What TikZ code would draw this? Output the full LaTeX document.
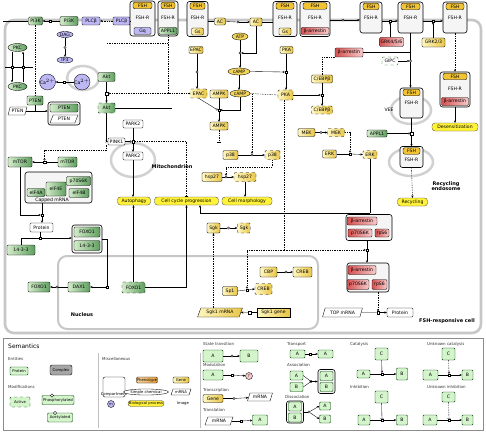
\documentclass[tikz,border=0pt]{standalone}
\usepackage{fontspec}
\setmainfont{DejaVu Sans}
\usetikzlibrary{shapes.geometric,arrows.meta,calc}
\definecolor{gL}{HTML}{D4ECCB}
\definecolor{gD}{HTML}{5F9F5F}
\definecolor{yL}{HTML}{FFF7C2}
\definecolor{yD}{HTML}{E9C646}
\definecolor{rL}{HTML}{F6CACA}
\definecolor{rD}{HTML}{D65050}
\definecolor{lav}{HTML}{BDB8F4}
\definecolor{yC}{HTML}{F4D65C}
\definecolor{phY}{HTML}{FFF238}
\definecolor{fshY}{HTML}{F1C232}
\definecolor{lgG}{HTML}{D4F4CC}
\definecolor{orP}{HTML}{E9A23B}
\newcommand{\mkcx}[6]{%
  \node[cplx, minimum width=#4pt, minimum height=#5pt] (#1) at (#2,#3) {};
  \node[fsh, minimum width=#4pt-6pt] (#1f) at ($(#1.north)+(0,4.8)$) {FSH};
  \node[base] (#1r) at ($(#1.center)+(0,#6)$) {FSH-R};
}
\begin{document}
\begin{tikzpicture}[x=1pt,y=-1pt,
 base/.style={font=\fontsize{4.6}{5}\selectfont, inner sep=0.3pt, align=center},
 small/.style={font=\fontsize{3.8}{4.2}\selectfont, inner sep=0.3pt, align=center},
 wh/.style 2 args={minimum width=#1pt, minimum height=#2pt},
 mac/.style={base, draw=black, line width=0.35pt, rounded corners=1.2pt},
 gp/.style={mac, left color=gL, right color=gD},
 gpd/.style={gp, dashed},
 yp/.style={mac, left color=yL, right color=yD},
 ypd/.style={yp, dashed},
 rp/.style={mac, left color=rD, right color=rL},
 lp/.style={mac, fill=lav},
 wp/.style={mac, fill=white},
 chem/.style={base, ellipse, draw=black, line width=0.35pt, inner sep=0pt},
 ychem/.style={chem, fill=yC},
 lchem/.style={chem, fill=lav},
 gchem/.style={chem, left color=gL, right color=gD},
 pheno/.style={base, draw=black!70, line width=0.35pt, rounded corners=3pt, fill=phY},
 cplx/.style={draw=black, line width=0.6pt, rounded corners=2.5pt, fill=black!4, inner sep=0pt},
 fsh/.style={base, draw=black, line width=0.35pt, rounded corners=2pt, fill=fshY, minimum height=6.5pt},
 mrna/.style={base, trapezium, trapezium left angle=65, trapezium right angle=115, trapezium stretches=true, draw=black, line width=0.35pt, fill=white},
 ymrna/.style={mrna, left color=yL, right color=yD},
 proc/.style={draw=black, line width=0.3pt, fill=white, minimum size=2.4pt, inner sep=0pt},
 procc/.style={proc, circle},
 ln/.style={draw=black, line width=0.35pt},
 dln/.style={ln, dash pattern=on 1.4pt off 1pt},
 arr/.style={-{Stealth[length=2.4pt,width=2.2pt]}},
 cat/.style={-{Circle[open,length=2.2pt,width=2.2pt]}},
 inh/.style={-{Bar[width=3.5pt]}},
 lbl/.style={font=\fontsize{5}{5.6}\selectfont\bfseries, inner sep=0pt, align=center},
 compt/.style={draw=black!22, line width=2.6pt, rounded corners=9pt},
 lbox/.style={base, draw=green!25!black, line width=0.4pt, fill=lgG, rounded corners=1pt},
 legh/.style={font=\fontsize{4}{4.5}\selectfont, inner sep=0pt, anchor=west, text=black!80},
]
\useasboundingbox (0,0) rectangle (486,433);
\fill[white] (0,0) rectangle (486,433);

% ---------- compartments ----------
\draw[compt] (5,20) rectangle (481,333);
\draw[compt, line width=2pt] (58,256) rectangle (318,329);
\draw[black!18, line width=2.5pt] (133,160) ellipse [x radius=22pt, y radius=17pt];
\draw[black!18, line width=2.5pt] (411,162) ellipse [x radius=22pt, y radius=14pt];
\draw[black!18, line width=2.5pt] (411,110) ellipse [x radius=20pt, y radius=14pt];
\draw[black!18, line width=2.5pt] (83,78) ellipse [x radius=16pt, y radius=12pt];
\node[lbl] (mitol) at (172,167) {Mitochondrion};
\node[lbl] (recl) at (446,186) {Recycling\\endosome};
\node[lbl] (nucl) at (82,315) {Nucleus};
\node[lbl] (celll) at (447,321) {FSH-responsive cell};
\node[base] (veel) at (389,110) {VEE};

% ---------- top row ----------
\node[gp, wh={14}{8}] (pi3ka) at (35.5,21) {PI3K};
\node[gp, wh={18}{9}] (pi3k) at (69,21) {PI3K};
\node[lp, wh={18}{8}] (plcba) at (91,21) {PLCβ};
\node[lp, wh={17}{8}] (plcb) at (121.5,21) {PLCβ};
\mkcx{cxa}{142.5}{18.5}{25}{35}{-1}
\node[lp, wh={17}{7}] (cxab) at (142.5,31) {Gq};
\mkcx{cxb}{168}{18.5}{20}{35}{-1}
\node[gp, wh={18}{7}] (cxbb) at (168,31) {APPL1};
\mkcx{cxc}{197.5}{19}{21}{35}{-1}
\node[yp, wh={12}{7}] (cxcb) at (197.5,31.5) {Gs};
\node[yp, wh={11}{7}] (ac1) at (220,21.5) {AC};
\node[yp, wh={12}{8}] (ac2) at (256,22) {AC};
\mkcx{cxd}{285}{19}{24}{35}{-1}
\node[yp, wh={12}{7}] (cxdb) at (285,31.5) {Gs};
\mkcx{cxe}{315}{19}{30}{35}{-1}
\node[rp, wh={28}{7}] (cxeb) at (315,31) {β-arrestin};
\mkcx{cxf}{371}{17.5}{22}{31}{0}
\mkcx{cxg}{410.5}{17.5}{25}{31}{0}
\mkcx{cxh}{455}{17.5}{24}{31}{0}
\node[rp, wh={24}{9}] (grkA) at (391.5,42) {GRK4/5/6};
\node[yp, wh={23}{9}] (grkB) at (433.5,42.5) {GRK2/3};
\node[rp, wh={28}{9}] (barr) at (349,52.5) {β-arrestin};
\node[wp, wh={16}{8}, draw=green!35!black, dashed] (gipc) at (390,61) {GIPC};
\mkcx{cxi}{455}{89.5}{30}{35}{-1}
\node[rp, wh={27}{8}] (cxib) at (455,101.5) {β-arrestin};
\mkcx{cxj}{411.5}{103}{23}{30}{0}
\node[pheno, wh={46}{8}] (desens) at (455,127) {Desensitization};
\node[gp, wh={20}{7}] (appl) at (377,133.5) {APPL1};
\mkcx{cxk}{411.5}{157}{23}{21}{3}
\node[pheno, wh={30}{8}] (recyc) at (412.5,202) {Recycling};

% ---------- right lower ----------
\node[cplx, wh={46}{26}] (cxl) at (369,227.5) {};
\node[rp, wh={30}{8}] (cxlb) at (362,221) {β-arrestin};
\node[rp, wh={24}{8}] (cxlp) at (360,233) {p70S6K};
\node[rp, wh={14}{8}] (cxlr) at (382,233) {rpS6};
\node[cplx, wh={42}{29}] (cxm) at (368,277.5) {};
\node[rp, wh={28}{9}] (cxmb) at (362,270) {β-arrestin};
\node[rp, wh={22}{10}] (cxmp) at (358,284.5) {p70S6K};
\node[rp, wh={15}{10}] (cxmr) at (379.5,284.5) {rpS6};
\node[mrna, wh={40}{9}] (topm) at (342.5,312.5) {TOP mRNA};
\node[wp, wh={26}{9}] (protr) at (400,312.5) {Protein};

% ---------- middle ----------
\node[yp, wh={14}{7}] (epac1) at (196,50) {EPAC};
\node[yp, wh={13}{7}] (pka1) at (286.5,50) {PKA};
\node[ychem, wh={16}{7}] (atp) at (240,36.5) {ATP};
\node[ychem, wh={22}{7}] (camp1) at (239,71.5) {cAMP};
\node[ypd, wh={17}{9}] (epac2) at (198.5,93.5) {EPAC};
\node[yp, wh={18}{8}] (ampk1) at (219,94) {AMPK};
\node[ychem, wh={20}{7}] (camp2) at (240,93.5) {cAMP};
\node[ypd, wh={15}{10}] (pka2) at (285.5,95) {PKA};
\node[yp, wh={18}{8}] (ampk2) at (219,126) {AMPK};
\node[yp, wh={21}{8}] (cebp1) at (322,79) {C/EBPβ};
\node[ypd, wh={21}{8}] (cebp2) at (322,110) {C/EBPβ};
\node[yp, wh={17}{8}] (mek1) at (306.5,132.5) {MEK};
\node[ypd, wh={17}{8}] (mek2) at (336,132.5) {MEK};
\node[yp, wh={14}{8}] (erk1) at (329.5,154) {ERK};
\node[ypd, wh={14}{8}] (erk2) at (370,154.5) {ERK};
\node[yp, wh={15}{9}] (p38a) at (230.5,155) {p38};
\node[ypd, wh={15}{9}] (p38b) at (272.5,155) {p38};
\node[yp, wh={20}{9}] (hspa) at (212,177) {hsp27};
\node[ypd, wh={22}{9}] (hspb) at (245,177) {hsp27};
\node[pheno, wh={33}{8}] (autoph) at (134,201) {Autophagy};
\node[pheno, wh={64}{8}] (ccp) at (186.5,201) {Cell cycle progression};
\node[pheno, wh={50}{8}] (cmorph) at (247,201) {Cell morphology};
\node[yp, wh={13}{10}] (sgka) at (213.5,228) {Sgk};
\node[ypd, wh={13}{10}] (sgkb) at (244,228) {Sgk};

% ---------- left ----------
\node[gchem, wh={19}{8}] (pkca) at (17.5,47.5) {PKC};
\node[gchem, wh={19}{8}] (pkcb) at (17.5,86.5) {PKC};
\node[lchem, wh={16}{6}] (dag) at (65,34.5) {DAG};
\node[lchem, wh={16}{6}] (ip3) at (65,60) {IP3};
\node[lchem, circle, minimum size=14pt] (caa) at (47.5,82) {Ca$^{2+}$};
\node[lchem, circle, minimum size=15pt] (cab) at (82,82) {Ca$^{2+}$};
\node[gp, wh={17}{9}] (akta) at (106.5,77) {Akt};
\node[gp, wh={16}{9}] (ptena) at (35,100.5) {PTEN};
\node[mrna, wh={19}{8}] (pteng) at (17.5,111) {PTEN};
\node[cplx, wh={32}{23}] (cxp) at (64,113.5) {};
\node[gp, wh={28}{8}] (cxpa) at (64,108) {PTEN};
\node[mrna, wh={28}{8}] (cxpb) at (64,119) {PTEN};
\node[gpd, wh={17}{10}] (aktb) at (106.5,108) {Akt};
\node[wp, wh={20}{8}] (parka) at (133,124) {PARK2};
\node[wp, wh={17}{7}] (pink) at (116.5,141.5) {PINK1};
\node[wp, wh={20}{8}] (parkb) at (133,156) {PARK2};
\node[gp, wh={24}{10}] (mtora) at (20,162) {mTOR};
\node[gp, wh={19}{10}] (mtorb) at (67.5,162) {mTOR};
\node[cplx, wh={67}{31}] (cxq) at (58.5,187.5) {};
\node[gp, wh={18}{8}] (eifa) at (36,192.5) {eIF4A};
\node[gp, wh={20}{14}] (eife) at (56,189) {eIF4E};
\node[gp, wh={24}{9}] (p70) at (78.5,181) {p70S6K};
\node[gp, wh={20}{9}] (eifb) at (79,193) {eIF4B};
\node[base] (cappedl) at (52,200.5) {Capped mRNA};
\node[wp, wh={23}{9}] (protl) at (41.5,227.5) {Protein};
\node[cplx, wh={30}{28}] (cxr) at (87,239) {};
\node[gp, wh={26}{10}] (cxrf) at (87,232) {FOXO1};
\node[gp, wh={26}{10}] (cxr4) at (87,245.5) {14-3-3};
\node[gp, wh={28}{10}] (p1433) at (21,250) {14-3-3};
\node[gp, wh={22}{10}] (foxa) at (39,287) {FOXO1};
\node[gp, wh={22}{10}] (dax) at (79,287) {DAX1};
\node[gpd, wh={23}{11}] (foxb) at (133.5,287.5) {FOXO1};
\node[ymrna, wh={45}{9}] (sgkm) at (220,312.5) {Sgk1 mRNA};
\node[yp, wh={33}{9}, sharp corners] (sgkg) at (273.5,312.5) {Sgk1 gene};
\node[yp, wh={17}{10}] (ya) at (268.5,272) {CBP};
\node[yp, wh={19}{10}] (yb) at (302.5,272) {CREB};
\node[ypd, wh={17}{11}] (yc) at (263.5,289) {CREB};
\node[yp, wh={15}{9}] (yd) at (230,291) {Sp1};

% ---------- process nodes ----------
\node[proc] (p_pi3k) at (50,21) {};
\node[procc] (p_dag) at (65,47.5) {};
\node[proc] (p_pkc1) at (12,67) {};
\node[proc] (p_pkc2) at (23,67) {};
\node[proc] (p_ca) at (64,82) {};
\node[proc] (p_akt) at (106.5,93.5) {};
\node[proc] (p_park) at (133,141.5) {};
\node[proc] (p_mtor) at (44.5,162) {};
\node[proc] (p_tr) at (42,215) {};
\node[proc] (p_as) at (40,238) {};
\node[procc] (p_fox) at (57,287) {};
\node[proc] (p_dax) at (107,287) {};
\node[proc] (p_sg) at (249.5,312.5) {};
\node[procc] (p_sgk) at (228.5,228) {};
\node[proc] (p_bar) at (367,250) {};
\node[proc] (p_y) at (247,290) {};
\node[procc] (p_cr) at (286,272) {};
\node[proc] (p_top) at (378,312.5) {};
\node[procc] (p_mek) at (321,132.5) {};
\node[proc] (p_erk) at (350,154) {};
\node[procc] (p_p38) at (252,155) {};
\node[procc] (p_hsp) at (226,177) {};
\node[proc] (p_ampk) at (219,110) {};
\node[procc] (p_atp) at (240,53) {};
\node[proc] (p_pka) at (286,72) {};
\node[procc] (p_epac) at (197,72) {};
\node[proc] (p_ceb) at (322,95) {};
\node[procc] (p_ac) at (238,22) {};
\node[procc] (p_ef) at (343,20) {};
\node[proc] (p_fg) at (390,21) {};
\node[proc] (p_gh) at (433,21) {};
\node[procc] (p_gj) at (410.5,61) {};
\node[proc] (p_jk) at (411.5,133.5) {};
\coordinate (leftm) at (3,21);
\coordinate (lm2) at (5,67);
\coordinate (rm2) at (33,67);
\coordinate (dA) at (107,43);
\coordinate (aktR) at (172,108);
\coordinate (pkD) at (284,250);
\coordinate (eJ) at (370,213);
\coordinate (ampkD) at (219,142);

% ---------- connectors ----------
\draw[ln] (leftm) -- (pi3ka.west);
\draw[ln] (pi3k.west) -- (p_pi3k.east);
\draw[ln,arr] (p_pi3k.west) -- (pi3ka.east);
\draw[dln,arr] (plcb.west) -- (plcba.east);
\draw[ln] (cxa.west |- plcb.east) -- (plcb.east);
\draw[ln] (dag.south) -- (p_dag.north);
\draw[ln,arr] (p_dag.south) -- (ip3.north);
\draw[ln] (pkca.south -| p_pkc1) -- (p_pkc1.north);
\draw[ln,arr] (p_pkc1.south) -- (pkcb.north -| p_pkc1);
\draw[ln] (pkcb.north -| p_pkc2) -- (p_pkc2.south);
\draw[ln,arr] (p_pkc2.north) -- (pkca.south -| p_pkc2);
\draw[ln] (lm2) -- (p_pkc1.west);
\draw[ln] (p_pkc1.east) -- (p_pkc2.west);
\draw[ln] (p_pkc2.east) -- (rm2);
\draw[ln] (cab.west) -- (p_ca.east);
\draw[ln,arr] (p_ca.west) -- (caa.east);
\draw[ln] (akta.south) -- (p_akt.north);
\draw[ln,arr] (p_akt.south) -- (aktb.north);
\draw[dln,cat] (epac2.west) -- (p_akt.east);
\draw[dln] (cxbb.south) -- (cxbb.south |- p_akt);
\draw[dln] (dA) -- (dA -| cxbb.south);
\draw[dln] (pi3ka.south) -- (pi3ka.south |- ptena.north);
\draw[ln] (ptena.south) -- (ptena.south |- pteng.east);
\draw[ln,arr] (pteng.east) -- (cxp.west |- pteng.east);
\draw[ln] (aktb.east) -- (aktR);
\draw[ln,arr] (aktb.south) |- (pink.west);
\draw[ln] (parka.south) -- (p_park.north);
\draw[ln,arr] (p_park.south) -- (parkb.north);
\draw[ln,cat] (pink.east) -- (p_park.west);
\draw[dln,inh] (p_park.east) -| (ccp.north);
\draw[ln,arr] (parkb.south) -- (parkb.south |- autoph.north);
\draw[ln,arr] (foxb.north) -- (foxb.north |- autoph.south);
\draw[ln,arr] (foxb.east) -| (ccp.south);
\draw[ln] (mtorb.west) -- (p_mtor.east);
\draw[ln,arr] (p_mtor.west) -- (mtora.east);
\draw[dln,cat] (pink.south -| aktb.south) -- ++(0,5) -| (p_mtor.north);
\draw[ln] (cxq.south -| p_tr) -- (p_tr.north);
\draw[ln,arr] (p_tr.south) -- (protl.north -| p_tr);
\draw[ln,cat] (mtora.south) |- (p_tr.west);
\draw[ln] (protl.south -| p_as) -- (p_as.north);
\draw[ln] (p1433.north) |- (p_as.west);
\draw[ln,arr] (p_as.east) -- (cxr.west |- p_as);
\draw[ln] (dax.west) -- (p_fox.east);
\draw[ln,arr] (p_fox.west) -- (foxa.east);
\draw[ln] (cxr.east) -| (p_dax.north);
\draw[ln,arr] (p_dax.west) -- (dax.east);
\draw[dln,arr] (sgka.south |- sgkm.north) -- (sgka.south);
\draw[ln] (sgkg.west) -- (p_sg.east);
\draw[ln,arr] (p_sg.west) -- (sgkm.east);
\draw[ln] (sgka.east) -- (p_sgk.west);
\draw[ln,arr] (p_sgk.east) -- (sgkb.west);
\draw[dln] (pka2.south -| pkD) -- (pkD);
\draw[dln,cat] (pkD) -- (p_bar.west);
\draw[ln] (cxl.south -| p_bar) -- (p_bar.north);
\draw[ln,arr] (p_bar.south) -- (cxm.north -| p_bar);
\draw[dln,cat] (pkD) -| (p_y.north);
\draw[ln] (yd.east) -- (p_y.west);
\draw[ln,arr] (p_y.east) -- (yc.west);
\draw[ln] (ya.east) -- (p_cr.west);
\draw[ln,arr] (p_cr.east) -- (yb.west);
\draw[ln] (topm.east) -- (p_top.west);
\draw[ln,arr] (p_top.east) -- (protr.west);
\draw[dln,cat] (cxm.south -| p_top) -- (p_top.north);
\draw[ln] (erk2.south) -- (eJ);
\draw[ln,arr] (eJ) -| ($(ccp.south)+(13.5,0)$);
\draw[ln] (mek1.east) -- (p_mek.west);
\draw[ln,arr] (p_mek.east) -- (mek2.west);
\draw[ln] (erk1.east) -- (p_erk.west);
\draw[ln,arr] (p_erk.east) -- (erk2.west);
\draw[dln,cat] (mek2.east) -| (p_erk.north);
\draw[ln] (p38a.east) -- (p_p38.west);
\draw[ln,arr] (p_p38.east) -- (p38b.west);
\draw[dln] (camp2.east) -- (pka2.west);
\draw[dln,cat] (camp2.east -| p_p38) -- (p_p38.north);
\draw[ln] (hspa.east) -- (p_hsp.west);
\draw[ln,arr] (p_hsp.east) -- (hspb.west);
\draw[dln,cat] (p38b.south) -- ++(0,7) -| (p_hsp.north);
\draw[ln,arr] (hspb.south) -- (hspb.south |- cmorph.north);
\draw[ln] (ampk1.south) -- (p_ampk.north);
\draw[ln,arr] (p_ampk.south) -- (ampk2.north);
\draw[ln,cat] (camp2.south) |- (p_ampk.east);
\draw[ln,cat] (epac2.south) -- (p_ampk.west);
\draw[dln,inh] (ampk2.south) -- (ampkD);
\draw[ln] (atp.south) -- (p_atp.north);
\draw[ln,arr] (p_atp.south) -- (camp1.north -| p_atp);
\draw[ln,cat] (ac2.south) |- (p_atp.east);
\draw[ln,arr] (camp1.south) -- (camp1.south |- camp2.north);
\draw[ln] (pka1.south -| p_pka) -- (p_pka.north);
\draw[ln,arr] (p_pka.south) -- (pka2.north -| p_pka);
\draw[ln,cat] (camp1.east) -- (p_pka.west);
\draw[ln] (epac1.south -| p_epac) -- (p_epac.north);
\draw[ln,arr] (p_epac.south) -- (epac2.north -| p_epac);
\draw[ln] (cebp1.south) -- (p_ceb.north);
\draw[ln,arr] (p_ceb.south) -- (cebp2.north);
\draw[ln,cat] (pka2.east) -- (p_ceb.west);
\draw[dln] (barr.south west) -| (cebp1.north);
\draw[ln] (ac1.east) -- (p_ac.west);
\draw[ln,arr] (p_ac.east) -- (ac2.west);
\draw[ln] (cxc.east |- ac1.west) -- (ac1.west);
\draw[ln] (cxd.west |- ac2.east) -- (ac2.east);
\draw[ln] (cxe.east |- p_ef) -- (p_ef.west);
\draw[ln,arr] (p_ef.east) -- (cxf.west |- p_ef);
\draw[ln] (cxf.east |- p_fg) -- (p_fg.west);
\draw[ln,arr] (p_fg.east) -- (cxg.west |- p_fg);
\draw[ln,cat] (grkA.north -| p_fg) -- (p_fg.south);
\draw[ln] (cxg.east |- p_gh) -- (p_gh.west);
\draw[ln,arr] (p_gh.east) -- (cxh.west |- p_gh);
\draw[ln,cat] (grkB.north -| p_gh) -- (p_gh.south);
\draw[dln,arr] (cxh.south) -- (cxi.north);
\draw[ln] (cxg.south) -- (p_gj.north);
\draw[ln,arr] (p_gj.south) -- (cxj.north -| p_gj);
\draw[ln,cat] (gipc.east) -- (p_gj.west);
\draw[ln] (barr.east) -| (p_gj.north);
\draw[ln,arr] (cxi.south) -- (desens.north);
\draw[ln] (cxj.south) -- (p_jk.north);
\draw[ln,arr] (p_jk.south) -- (cxk.north);
\draw[ln,cat] (appl.east) -- (p_jk.west);
\draw[dln,arr] (cxk.south) -- (recyc.north);

% ---------- legend ----------
\draw[black!45, line width=0.5pt, fill=white] (3,338) rectangle (483,430);
\node[anchor=west, font=\fontsize{6}{7}\selectfont, inner sep=0pt] (semt) at (8,346) {Semantics};
\draw[black!25, line width=0.4pt] (98,353) -- (98,428);
\draw[black!25, line width=0.4pt] (200,353) -- (200,428);
\node[legh] (lh1) at (8,359) {Entities};
\node[lbox, wh={18}{8}, small] (lgprot) at (19,371) {Protein};
\node[small, draw=black, fill=black!35, rounded corners=2pt, wh={22}{10}] (lgcx) at (61,370) {Complex};
\node[legh] (lh2) at (8,387) {Modifications};
\node[lbox, small, dashed, wh={20}{10}] (lgact) at (20,402) {Active};
\node[lbox, small, wh={32}{9}] (lgphos) at (58,400) {Phosphorylated};
\node[circle, draw, fill=white, inner sep=0pt, minimum size=3.2pt] (lgphc) at (52,395.5) {};
\node[lbox, small, wh={25}{9}] (lgacet) at (60,417.5) {Acetylated};
\node[circle, draw, fill=white, inner sep=0pt, minimum size=3.2pt] (lgacc) at (55,413) {};
\node[legh] (lh3) at (102,359) {Miscellaneous};
\node[draw=black, rounded corners=2pt, line width=0.4pt, wh={22}{20}] (lgcomp) at (114,387) {};
\node[small] (lgcompl) at (114,394) {Compartment};
\node[lchem, circle, small, minimum size=7pt] (lgm) at (111,404) {m};
\node[small, draw=black, line width=0.3pt, rounded corners=1pt, left color=orP!50, right color=orP, wh={20}{6}] (lgpert) at (147,380) {Phenotype};
\node[yp, small, wh={16}{6}] (lggene) at (181,380) {Gene};
\node[chem, small, fill=white, wh={34}{6}] (lgsc) at (146,392) {Simple chemical};
\node[mrna, small, wh={20}{6}] (lgmrna) at (181,392) {mRNA};
\node[pheno, small, wh={36}{6}] (lgbio) at (146,403.5) {Biological process};
\node[small] (lgimg) at (183,403.5) {Image};
% state transition
\node[legh] (lh4) at (203,344) {State transition};
\node[lbox, wh={20}{12}] (stA) at (213,356) {A};
\node[procc] (stP) at (232,356) {};
\node[lbox, wh={18}{12}] (stB) at (249,356) {B};
\draw[ln] (stA) -- (stP); \draw[ln,arr] (stP) -- (stB);
\node[legh] (lh5) at (203,365) {Modulation};
\node[lbox, wh={20}{10}] (mdA) at (213,375) {A};
\node[proc] (mdP) at (232,375) {};
\node[circle, draw=black, line width=0.35pt, fill=rL, small, minimum size=7pt, inner sep=0pt] (mdQ) at (249,376) {?};
\draw[ln] (mdA) -- (mdP); \draw[ln,arr] (mdP) -- (mdQ);
\node[legh] (lh6) at (203,390) {Transcription};
\node[yp, wh={20}{8}] (trG) at (213,398.5) {Gene};
\node[procc] (trP) at (234,398.5) {};
\node[mrna, wh={25}{8}] (trM) at (260,397) {mRNA};
\draw[ln] (trG) -- (trP); \draw[ln,arr] (trP) -- (trM);
\node[legh] (lh7) at (203,410) {Translation};
\node[mrna, wh={28}{8}] (tlM) at (219,421) {mRNA};
\node[proc] (tlP) at (241,421) {};
\node[lbox, wh={15}{10}] (tlA) at (260,420) {A};
\draw[ln] (tlM) -- (tlP); \draw[ln,arr] (tlP) -- (tlA);
% transport etc
\node[legh] (lh8) at (287,344) {Transport};
\node[lbox, wh={15}{8}] (tpA) at (297.5,354) {A};
\node[proc] (tpP) at (310,354) {};
\node[lbox, wh={15}{8}] (tpB) at (325.5,354) {A};
\draw[ln] (tpA) -- (tpP); \draw[ln,arr] (tpP) -- (tpB);
\node[legh] (lh9) at (287,365) {Association};
\node[lbox, wh={13}{9}] (asA) at (296.5,375.5) {A};
\node[lbox, wh={13}{9}] (asB) at (296.5,387) {B};
\node[procc, fill=black] (asP) at (311,381.5) {};
\node[cplx, wh={17}{24}] (asC) at (326.5,381.5) {};
\node[lbox, wh={13}{9}] (asCA) at (326.5,376) {A};
\node[lbox, wh={13}{9}] (asCB) at (326.5,387) {B};
\draw[ln] (asA.east) -- (asP); \draw[ln] (asB.east) -- (asP); \draw[ln,arr] (asP) -- (asC);
\node[legh] (lh10) at (285,397) {Dissociation};
\node[cplx, wh={17}{22}] (dsC) at (295,412) {};
\node[lbox, wh={13}{9}] (dsCA) at (295,406.5) {A};
\node[lbox, wh={13}{9}] (dsCB) at (295,417.5) {B};
\node[procc] (dsP) at (309,412) {};
\node[lbox, wh={11}{8}] (dsA) at (325,406) {A};
\node[lbox, wh={11}{8}] (dsB) at (325,419) {B};
\draw[ln] (dsC) -- (dsP); \draw[ln,arr] (dsP) -- (dsA.west); \draw[ln,arr] (dsP) -- (dsB.west);
\node[legh] (lh11) at (350,344) {Catalysis};
\node[lbox, wh={13}{12}] (caC) at (381.5,354) {C};
\node[lbox, wh={13}{8}] (caA) at (363.5,374) {A};
\node[proc] (caP) at (382,374) {};
\node[lbox, wh={11}{12}] (caB) at (402,374) {B};
\draw[ln] (caA) -- (caP); \draw[ln,arr] (caP) -- (caB); \draw[ln,cat] (caC) -- (caP);
\node[legh] (lh12) at (350,387) {Inhibition};
\node[lbox, wh={13}{12}] (inC) at (381.5,397) {C};
\node[lbox, wh={12}{10}] (inA) at (364,420) {A};
\node[proc] (inP) at (382,420) {};
\node[lbox, wh={11}{10}] (inB) at (402,420) {B};
\draw[ln] (inA) -- (inP); \draw[ln,arr] (inP) -- (inB); \draw[ln,inh] (inC) -- (inP);
\node[legh] (lh13) at (427,344) {Unknown catalysis};
\node[lbox, wh={13}{12}] (ucC) at (448.5,354) {C};
\node[lbox, wh={15}{10}] (ucA) at (430.5,375) {A};
\node[proc] (ucP) at (449,375) {};
\node[lbox, wh={11}{10}] (ucB) at (467.5,375) {B};
\draw[ln] (ucA) -- (ucP); \draw[ln,arr] (ucP) -- (ucB); \draw[dln,cat] (ucC) -- (ucP);
\node[legh] (lh14) at (427,387) {Unknown inhibition};
\node[lbox, wh={13}{10}] (uiC) at (448.5,397) {C};
\node[lbox, wh={14}{10}] (uiA) at (430,420) {A};
\node[proc] (uiP) at (449,420) {};
\node[lbox, wh={11}{10}] (uiB) at (467.5,420) {B};
\draw[ln] (uiA) -- (uiP); \draw[ln,arr] (uiP) -- (uiB); \draw[dln,inh] (uiC) -- (uiP);
\end{tikzpicture}
\end{document}
